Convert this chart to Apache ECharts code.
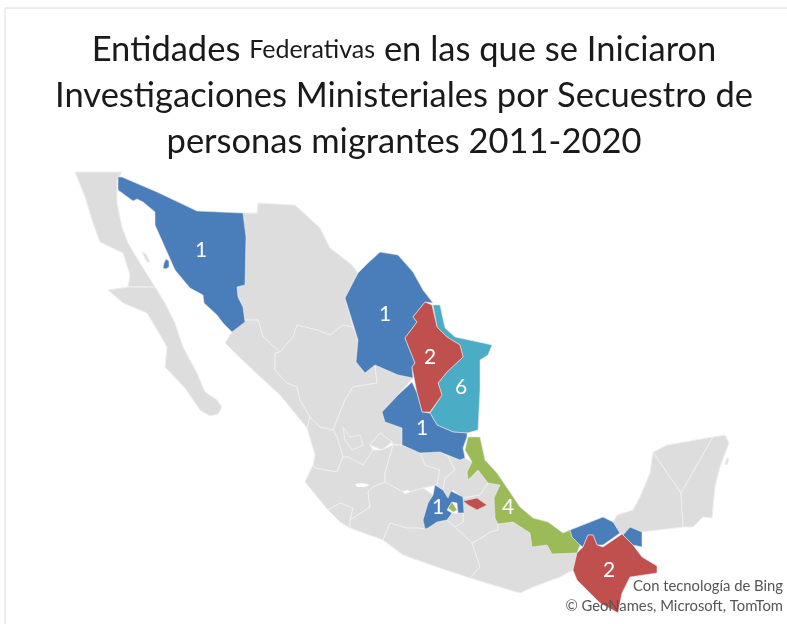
<!DOCTYPE html>
<html>
<head>
<meta charset="utf-8">
<style>html,body{margin:0;padding:0;background:#fff}#c{width:787px;height:624px}</style>
<script src="https://cdn.jsdelivr.net/npm/echarts@6/dist/echarts.min.js"></script>
</head>
<body>
<div id="c"></div>
<script>
// Data
const stateNames = ['Sonora','Coahuila','Nuevo León','Tamaulipas','San Luis Potosí','Veracruz','México','Ciudad de México','Tlaxcala','Tabasco','Chiapas'];
const stateValues = [1,1,2,6,1,4,1,4,2,1,2];
const labelledStates = ['Sonora','Coahuila','Nuevo León','Tamaulipas','San Luis Potosí','Veracruz','México','Chiapas'];
const valueColors = {1:'#4a7ebb',2:'#c0504d',4:'#9bbb59',6:'#4bacc6'};
const lakeNames = ['Chapala','Cuitzeo'];
const titleLines = ['Entidades {s|Federativas} en las que se Iniciaron','Investigaciones Ministeriales por Secuestro de','personas migrantes 2011-2020'];
const creditLines = ['Con tecnología de Bing','© GeoNames, Microsoft, TomTom'];

// State outlines (map geometry, drawn by the library's map series)
const outlines = {
 'Baja California':[[[75,172],[122,172],[117,180],[117,203],[122,227],[128,243],[140,263],[155,287],[128,287],[130,275],[123,253],[100,242],[93,223],[85,197]],[[142,252],[146,254],[150,262],[147,262]]],
 'Baja California Sur':[[[108,290],[128,287],[155,287],[165,303],[175,323],[183,347],[197,373],[205,392],[217,400],[222,407],[218,414],[210,416],[200,410],[185,388],[165,367],[167,347],[160,335],[147,313],[123,303]]],
 'Chihuahua':[[[243,213],[257,213],[258,203],[295,205],[320,228],[330,248],[352,265],[358,273],[345,298],[353,327],[343,325],[330,335],[317,330],[297,325],[293,337],[280,352],[263,337],[258,320],[245,320],[243,307],[238,297],[237,287],[245,285],[246,237]]],
 'Sinaloa':[[[232,332],[245,320],[258,320],[263,337],[280,352],[275,353],[275,370],[287,383],[297,387],[300,400],[310,417],[307,428],[280,395],[255,372],[232,350],[225,343]]],
 'Durango':[[[280,352],[293,337],[297,325],[317,330],[330,335],[343,325],[353,327],[358,340],[356,362],[365,373],[375,365],[377,383],[353,387],[345,400],[337,420],[333,430],[320,427],[310,417],[300,400],[297,387],[287,383],[275,370],[275,353]]],
 'Zacatecas':[[[375,365],[398,375],[413,378],[398,395],[382,412],[385,422],[402,428],[402,445],[393,445],[392,442],[380,433],[370,445],[373,450],[363,465],[348,457],[343,457],[337,437],[333,430],[337,420],[345,400],[353,387],[377,383]]],
 'Aguascalientes':[[[370,445],[380,433],[392,442],[382,450]]],
 'Nayarit':[[[307,428],[310,417],[320,427],[333,430],[337,437],[343,457],[337,472],[315,468],[313,465],[315,455]]],
 'Jalisco':[[[313,465],[315,468],[337,472],[343,457],[348,457],[363,465],[373,450],[382,450],[393,445],[385,473],[385,482],[373,487],[368,492],[370,507],[350,520],[353,508],[340,503],[328,510],[305,482]],[[343,427],[350,437],[360,435],[363,445],[352,450],[345,440]]],
 'Colima':[[[328,510],[340,503],[353,508],[350,520],[350,528],[340,522]]],
 'Michoacán':[[[350,528],[383,540],[390,523],[407,528],[418,528],[425,529],[423,520],[428,503],[433,495],[423,488],[405,493],[385,482],[373,487],[368,492],[370,507],[350,520]]],
 'Guanajuato':[[[385,473],[393,445],[402,445],[420,453],[425,465],[440,470],[437,485],[423,488],[405,493],[385,482]]],
 'Querétaro':[[[420,453],[440,452],[448,456],[455,470],[445,478],[443,490],[435,485],[437,485],[440,470],[425,465]]],
 'Hidalgo':[[[440,452],[460,460],[465,458],[472,462],[467,472],[468,480],[478,470],[488,483],[480,495],[463,498],[453,490],[448,498],[443,490],[445,478],[455,470],[448,456]]],
 'Puebla':[[[463,498],[480,495],[488,483],[500,485],[494,498],[495,518],[498,524],[498,530],[490,532],[483,537],[472,543],[455,527],[463,522],[463,513]]],
 'Morelos':[[[447,520],[452,513],[463,513],[463,522],[455,527]]],
 'Guerrero':[[[383,540],[403,555],[437,567],[470,578],[480,567],[472,543],[455,527],[447,520],[437,522],[428,528],[425,529],[418,528],[407,528],[390,523]]],
 'Oaxaca':[[[472,543],[483,537],[490,532],[498,530],[498,524],[513,522],[530,533],[532,547],[547,545],[552,554],[577,553],[573,570],[560,577],[533,587],[520,593],[503,588],[470,578],[480,567]]],
 'Campeche':[[[613,522],[617,515],[633,510],[640,497],[650,473],[653,452],[681,493],[683,527],[642,532],[630,527],[623,535],[620,533]]],
 'Yucatán':[[[653,452],[667,445],[713,437],[681,493]]],
 'Quintana Roo':[[[713,437],[725,435],[729,443],[720,467],[715,487],[712,518],[703,517],[693,527],[683,527],[681,493]],[[727,458],[729,459],[727,465],[725,464]]],
 'Chapala':[[[355,484],[362,483],[370,485],[364,487],[357,487]]],
 'Cuitzeo':[[[403,491],[408,490],[410,492],[405,494]]],
 'Sonora':[[[118,177],[122,177],[157,192],[197,211],[243,213],[246,237],[245,285],[237,287],[238,297],[243,307],[245,322],[232,332],[223,323],[217,315],[204,303],[203,295],[190,288],[175,270],[163,243],[155,225],[155,212],[143,202],[137,199],[133,201],[118,190]],[[166,259],[169,261],[169,267],[166,269],[163,268],[164,263]]],
 'Coahuila':[[[380,252],[398,255],[413,272],[423,290],[433,303],[425,302],[413,317],[417,322],[405,338],[415,363],[412,367],[413,378],[398,375],[375,365],[365,373],[356,362],[358,340],[345,298],[358,273],[368,263]]],
 'Tamaulipas':[[[433,305],[440,305],[445,328],[455,337],[483,343],[492,345],[488,355],[480,360],[480,390],[478,430],[467,433],[453,432],[437,425],[430,413],[442,395],[438,383],[447,372],[463,357],[460,345],[447,337],[437,327]]],
 'Nuevo León':[[[425,302],[432,305],[437,327],[447,337],[460,345],[463,357],[447,372],[438,383],[442,395],[430,412],[422,412],[417,393],[412,367],[415,363],[405,338],[417,322],[413,317]]],
 'San Luis Potosí':[[[412,382],[417,393],[422,412],[430,413],[437,425],[453,432],[467,433],[467,437],[463,448],[465,458],[460,460],[440,452],[420,453],[402,445],[402,428],[385,422],[382,412],[398,395]]],
 'Veracruz':[[[468,437],[480,437],[485,460],[497,473],[520,507],[533,518],[548,522],[563,533],[570,530],[572,537],[580,545],[577,553],[552,554],[547,545],[532,547],[530,533],[513,522],[498,524],[495,518],[494,498],[500,485],[488,483],[478,470],[468,480],[467,472],[472,462],[465,450]]],
 'México':[[[435,485],[443,490],[448,498],[451,491],[463,497],[464,513],[458,513],[457,503],[452,502],[447,510],[452,513],[447,520],[437,522],[428,528],[425,529],[423,520],[428,503],[433,495]]],
 'Ciudad de México':[[[452,502],[457,510],[453,512],[448,508]]],
 'Tlaxcala':[[[463,501],[477,498],[487,505],[477,510],[468,505]]],
 'Tabasco':[[[570,530],[603,517],[613,522],[620,533],[603,545],[597,545],[593,535],[588,535],[583,547],[580,545],[572,537]],[[623,535],[630,527],[642,532],[642,547],[633,545]]],
 'Chiapas':[[[588,535],[593,535],[597,545],[603,547],[622,534],[623,535],[633,545],[642,557],[657,566],[657,573],[630,577],[622,593],[620,603],[618,613],[600,603],[577,580],[573,570],[577,553],[583,547]]]
};
const labelPoints = {'Sonora':[201,250],'Coahuila':[385,314],'Nuevo León':[430,357],'Tamaulipas':[461,387],'San Luis Potosí':[422,428],'Veracruz':[508,507],'México':[438,507],'Chiapas':[609,570]};

const geo = {type:'FeatureCollection',features:Object.keys(outlines).map(name=>({
  type:'Feature',
  properties:Object.assign({name},labelPoints[name]?{cp:labelPoints[name]}:{}),
  geometry:{type:'MultiPolygon',coordinates:outlines[name].map(r=>[r.concat([r[0]])])}
}))};
echarts.registerMap('mx',geo);

const chart = echarts.init(document.getElementById('c'),null,{renderer:'canvas'});
chart.setOption({
  animation:false,
  backgroundColor:'#fff',
  title:{
    text:titleLines.join('\n'),
    left:399,top:22,textAlign:'center',
    textStyle:{fontFamily:'Lato',fontSize:34.5,fontWeight:'normal',color:'#1a1a1a',lineHeight:46,
      rich:{s:{fontFamily:'Lato',fontSize:25,color:'#1a1a1a',lineHeight:46}}}
  },
  series:[{
    type:'map',map:'mx',silent:true,roam:false,aspectScale:1,
    left:75,top:172,width:654,height:441,
    projection:{project:p=>p,unproject:p=>p},
    itemStyle:{areaColor:'#dddddd',borderColor:'#efefef',borderWidth:1},
    label:{show:false},
    data:stateNames.map((name,i)=>({
      name,value:stateValues[i],
      itemStyle:{areaColor:valueColors[stateValues[i]],borderColor:'#e4e4e4',borderWidth:0.6},
      label:{show:labelledStates.includes(name),formatter:'{c}',color:'#fff',fontFamily:'Lato',fontSize:21}
    })).concat(lakeNames.map(name=>({name,itemStyle:{areaColor:'#ffffff',borderColor:'#ffffff',borderWidth:0}})))
  }],
  graphic:[
    {type:'rect',shape:{x:5,y:8,width:820,height:700},style:{fill:null,stroke:'#dcdcdc',lineWidth:1},silent:true},
    {type:'text',z:50,right:4,top:579,style:{text:creditLines[0],fontFamily:'Lato',fontSize:14.8,fill:'#555'}},
    {type:'text',z:50,right:4,top:599,style:{text:creditLines[1],fontFamily:'Lato',fontSize:14.8,fill:'#555'}}
  ]
});
</script>
</body>
</html>
